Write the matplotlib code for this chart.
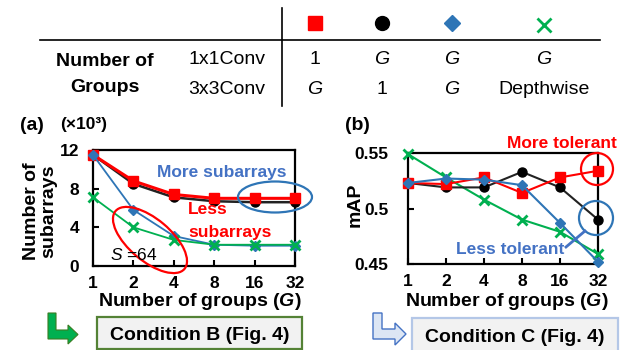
import numpy as np
import matplotlib
matplotlib.use('Agg')
import matplotlib.pyplot as plt
from matplotlib.patches import Ellipse, Circle, Rectangle, Polygon

plt.rcParams['font.family'] = ['Liberation Sans', 'DejaVu Sans']
plt.rcParams['mathtext.fontset'] = 'custom'
plt.rcParams['mathtext.it'] = 'Liberation Sans:italic'
plt.rcParams['mathtext.bf'] = 'Liberation Sans:italic:bold'  # used for the bold italic G
plt.rcParams['mathtext.rm'] = 'Liberation Sans'

# data
groups = ['1', '2', '4', '8', '16', '32']
sub_red = [11.5, 8.8, 7.4, 7.0, 7.0, 7.0]
sub_black = [11.5, 8.5, 7.1, 6.7, 6.6, 6.6]
sub_blue = [11.5, 5.8, 3.1, 2.2, 2.1, 2.1]
sub_green = [7.1, 4.0, 2.7, 2.2, 2.2, 2.2]

map_red = [0.523, 0.522, 0.528, 0.514, 0.528, 0.534]
map_black = [0.523, 0.519, 0.519, 0.533, 0.519, 0.490]
map_blue = [0.523, 0.527, 0.526, 0.521, 0.487, 0.452]
map_green = [0.549, 0.528, 0.508, 0.490, 0.479, 0.459]

RED, BLACK, BLUE, GREEN = '#ff0000', '#000000', '#2e75b6', '#00b050'
TXTBLUE = '#4472c4'

fig = plt.figure(figsize=(6.3, 3.5), dpi=100)
W, H = 630.0, 350.0


def box(l, t, r, b):
    return [l / W, 1 - b / H, (r - l) / W, (b - t) / H]


def style(ax, ypad):
    for s in ax.spines.values():
        s.set_linewidth(1.6)
    ax.tick_params(direction='in', length=4, width=1.5, labelsize=12.5)
    ax.tick_params(axis='y', pad=ypad)
    ax.tick_params(axis='x', pad=7)
    for lab in ax.get_xticklabels() + ax.get_yticklabels():
        lab.set_fontweight('bold')


x = np.arange(len(groups))
series = [(sub_red, map_red, RED, 's', 2.2), (sub_black, map_black, '#222222', 'o', 1.8),
          (sub_blue, map_blue, BLUE, 'D', 1.3), (sub_green, map_green, GREEN, 'x', 1.3)]
mk = {'s': 6.5, 'o': 6.5, 'D': 5.5, 'x': 7}

# (a) number of subarrays
ax1 = fig.add_axes(box(93, 150, 295, 266))
for i in [1, 0, 2, 3]:
    ys, _, c, m, lw = series[i]
    mc = BLACK if m == 'o' else c
    ax1.plot(x, ys, color=c, lw=lw, marker=m, ms=mk[m], mfc=mc, mec=mc, mew=2 if m == 'x' else 1,
             clip_on=False, zorder=3)
ax1.set_xlim(0, 5)
ax1.set_ylim(0, 12)
ax1.set_yticks([0, 4, 8, 12])
ax1.set_xticks(x)
ax1.set_xticklabels(groups)
style(ax1, 10)

# (b) mAP
ax2 = fig.add_axes(box(408, 153, 598, 264))
for i in [3, 1, 0, 2]:
    _, ys, c, m, lw = series[i]
    mc = BLACK if m == 'o' else c
    ax2.plot(x, ys, color=c, lw=1.5, marker=m, ms=mk[m], mfc=mc, mec=mc, mew=2 if m == 'x' else 1,
             clip_on=False, zorder=3)
ax2.set_xlim(0, 5)
ax2.set_ylim(0.45, 0.55)
ax2.set_yticks([0.45, 0.5, 0.55])
ax2.set_yticklabels(['0.45', '0.5', '0.55'])
ax2.set_xticks(x)
ax2.set_xticklabels(groups)
style(ax2, 14)

# overlay in pixel coordinates for table, annotations, boxes
ov = fig.add_axes([0, 0, 1, 1])
ov.set_xlim(0, W)
ov.set_ylim(H, 0)
ov.axis('off')

# header table
ov.plot([40, 600], [40, 40], color='black', lw=1.2)
ov.plot([282, 282], [8, 106], color='black', lw=1.2)
cols = [315, 382, 452, 544]
ov.plot(cols[0], 23, 's', color=RED, ms=10)
ov.plot(cols[1], 23, 'o', color=BLACK, ms=10)
ov.plot(cols[2], 23, 'D', color=BLUE, ms=8.5)
ov.plot(cols[3], 25, 'x', color=GREEN, ms=10, mew=2)
row1 = ['1', '$\\mathit{G}$', '$\\mathit{G}$', '$\\mathit{G}$']
row2 = ['$\\mathit{G}$', '1', '$\\mathit{G}$', 'Depthwise']
for cx, a, b in zip(cols, row1, row2):
    ov.text(cx, 59, a, ha='center', va='center', fontsize=14)
    ov.text(cx, 90, b, ha='center', va='center', fontsize=14)
ov.text(227, 59, '1x1Conv', ha='center', va='center', fontsize=14)
ov.text(227, 90, '3x3Conv', ha='center', va='center', fontsize=14)
ov.text(105, 62, 'Number of', ha='center', va='center', fontsize=14, fontweight='bold')
ov.text(105, 87, 'Groups', ha='center', va='center', fontsize=14, fontweight='bold')

# panel labels
ov.text(32, 125, '(a)', ha='center', va='center', fontsize=14, fontweight='bold')
ov.text(84, 124, '(\u00d710\u00b3)', ha='center', va='center', fontsize=12.5, fontweight='bold')
ov.text(357, 125, '(b)', ha='center', va='center', fontsize=14, fontweight='bold')
ov.text(40, 211, 'Number of\nsubarrays', ha='center', va='center', rotation=90, fontsize=14,
        fontweight='bold', linespacing=1.0)
ov.text(355, 205, 'mAP', ha='center', va='center', rotation=90, fontsize=14, fontweight='bold')
for cx in [200, 507]:
    ov.text(cx, 302, 'Number of groups ($\\mathbf{G}$)', ha='center', va='center', fontsize=14,
            fontweight='bold')

# annotations (a)
ov.text(222, 173, 'More subarrays', ha='center', va='center', fontsize=12.5, fontweight='bold',
        color=TXTBLUE)
ov.text(208, 210, 'Less', ha='center', va='center', fontsize=12.5, fontweight='bold', color=RED)
ov.text(230, 233, 'subarrays', ha='center', va='center', fontsize=12.5, fontweight='bold', color=RED)
ov.text(110, 255, '$\\mathit{S}$ =64', ha='left', va='center', fontsize=12.5)
ov.add_patch(Ellipse((150, 240), 90, 42, angle=40, fill=False, ec=RED, lw=1.6))
ov.add_patch(Ellipse((275, 197), 74, 31, fill=False, ec=BLUE, lw=1.6))

# annotations (b)
ov.text(562, 143, 'More tolerant', ha='center', va='center', fontsize=12.5, fontweight='bold',
        color=RED)
ov.text(510, 250, 'Less tolerant', ha='center', va='center', fontsize=12.5, fontweight='bold',
        color=TXTBLUE)
ov.add_patch(Circle((597, 169), 16, fill=False, ec=RED, lw=1.6))
ov.add_patch(Circle((596, 218), 17, fill=False, ec=BLUE, lw=1.6))
ov.plot([585, 566], [231, 247], color=TXTBLUE, lw=2)

# condition boxes
ov.add_patch(Rectangle((97, 317), 205, 32, fc='#f2f2f2', ec='#548235', lw=1.6))
ov.text(200, 336, 'Condition B (Fig. 4)', ha='center', va='center', fontsize=14, fontweight='bold')
ov.add_patch(Rectangle((412, 318), 206, 34, fc='#f2f2f2', ec='#b4c7e7', lw=1.6, clip_on=False))
ov.text(515, 337, 'Condition C (Fig. 4)', ha='center', va='center', fontsize=14, fontweight='bold')

# L-shaped arrows
la = [(48, 313), (56, 313), (56, 330), (68, 330), (68, 325), (78, 334.5), (68, 344), (68, 339), (48, 339)]
ov.add_patch(Polygon(la, closed=True, fc=GREEN, ec='#3a7d22', lw=0.8))
ra = [(373, 313), (382, 313), (382, 329), (395, 329), (395, 323), (406, 334), (395, 345), (395, 339),
      (373, 339)]
ov.add_patch(Polygon(ra, closed=True, fc='#dce6f4', ec=TXTBLUE, lw=1))

fig.savefig('out.png', dpi=100)
